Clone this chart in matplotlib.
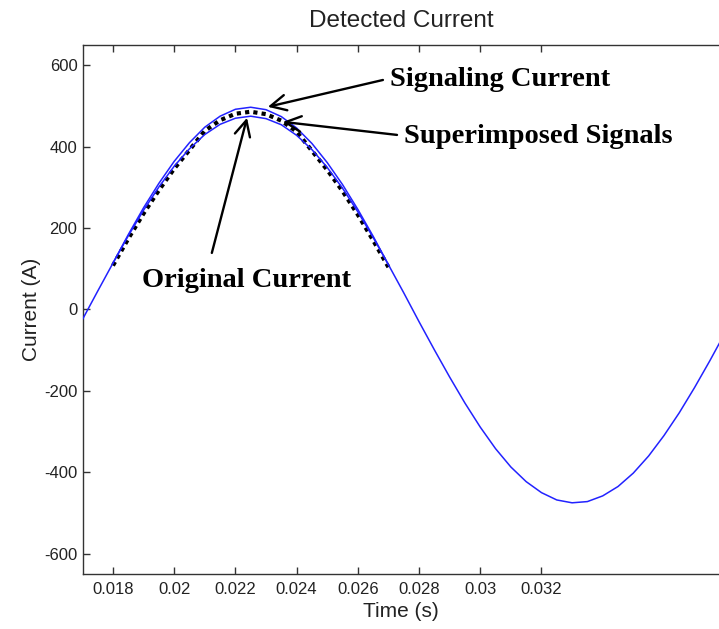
import matplotlib
matplotlib.use("Agg")
import matplotlib.pyplot as plt

plt.rcParams["axes.unicode_minus"] = False

# ---- data ----
t_orig = [0.0170, 0.0175, 0.0180, 0.0185, 0.0190, 0.0195, 0.0200, 0.0205, 0.0210, 0.0215,
          0.0220, 0.0225, 0.0230, 0.0235, 0.0240, 0.0245, 0.0250, 0.0255, 0.0260, 0.0265,
          0.0270, 0.0275, 0.0280, 0.0285, 0.0290, 0.0295, 0.0300, 0.0305, 0.0310, 0.0315,
          0.0320, 0.0325, 0.0330, 0.0335, 0.0340, 0.0345, 0.0350, 0.0355, 0.0360, 0.0365,
          0.0370, 0.0375, 0.0380]
i_orig = [-25, 45, 114, 181, 244, 301, 352, 395, 430, 455,
          470, 475, 469, 454, 428, 393, 349, 298, 240, 177,
          110, 41, -30, -99, -166, -230, -289, -342, -387, -423,
          -450, -468, -475, -472, -458, -435, -402, -360, -310, -254,
          -192, -126, -57]

t_sig = [0.0180, 0.0185, 0.0190, 0.0195, 0.0200, 0.0205, 0.0210, 0.0215, 0.0220, 0.0225,
         0.0230, 0.0235, 0.0240, 0.0245, 0.0250, 0.0255, 0.0260, 0.0265, 0.0270]
i_sig = [114, 184, 250, 310, 364, 410, 448, 475, 492, 497,
         491, 474, 446, 408, 361, 307, 246, 180, 110]

t_sup = [0.0180, 0.0185, 0.0190, 0.0195, 0.0200, 0.0205, 0.0210, 0.0215, 0.0220, 0.0225,
         0.0230, 0.0235, 0.0240, 0.0245, 0.0250, 0.0255, 0.0260, 0.0265, 0.0270]
i_sup = [108, 174, 236, 293, 346, 392, 439, 465, 481, 486,
         480, 464, 437, 390, 343, 291, 233, 170, 104]

xticks = [0.018, 0.020, 0.022, 0.024, 0.026, 0.028, 0.030, 0.032]
xtick_labels = ["0.018", "0.02", "0.022", "0.024", "0.026", "0.028", "0.03", "0.032"]
yticks = [-600, -400, -200, 0, 200, 400, 600]

title = "Detected Current"
xlabel = "Time (s)"
ylabel = "Current (A)"
ann_sig = "Signaling Current"
ann_sup = "Superimposed Signals"
ann_orig = "Original Current"

# ---- figure ----
fig = plt.figure(figsize=(7.19, 6.29), dpi=100)
ax = fig.add_axes([0.1154, 0.0874, 0.8846, 0.8411])

ax.plot(t_orig, i_orig, color="#2222ff", lw=1.1, zorder=3)
ax.plot(t_sig, i_sig, color="#2222ff", lw=1.1, zorder=3)
ax.plot(t_sup, i_sup, color="black", lw=3.0, ls=(0, (1, 1)), zorder=2)

ax.set_xlim(0.01702, 0.0378)
ax.set_ylim(-650, 650)
ax.set_xticks(xticks)
ax.set_xticklabels(xtick_labels)
ax.set_yticks(yticks)

sans = ["Liberation Sans", "DejaVu Sans"]
for lab in ax.get_xticklabels() + ax.get_yticklabels():
    lab.set_fontfamily(sans)
    lab.set_fontsize(12)
    lab.set_color("#222222")

ax.tick_params(axis="y", direction="in", length=5, width=1, right=False,
               colors="#333333", labelcolor="#222222", pad=4)
ax.tick_params(axis="x", direction="in", length=5, width=1, top=True,
               colors="#333333", labelcolor="#222222", pad=6)
for side in ("left", "bottom", "top"):
    ax.spines[side].set_color("#333333")
    ax.spines[side].set_linewidth(1.0)
ax.spines["right"].set_visible(False)

ax.set_title(title, family=sans, fontsize=17.5, color="#222222", pad=13)
ax.set_xlabel(xlabel, family=sans, fontsize=15, color="#222222", labelpad=3)
ax.set_ylabel(ylabel, family=sans, fontsize=15, color="#222222", labelpad=2)

serif = ["Liberation Serif", "DejaVu Serif"]
arrow = dict(arrowstyle="->", color="black", lw=1.7, mutation_scale=28,
             shrinkA=0, shrinkB=0)

ax.annotate("", xy=(0.02306, 498), xytext=(0.02682, 564), arrowprops=arrow, zorder=5)
ax.text(0.02705, 564, ann_sig, family=serif, fontweight="bold", fontsize=20.5,
        ha="left", va="center")

ax.annotate("", xy=(0.02355, 461), xytext=(0.02728, 429), arrowprops=arrow, zorder=5)
ax.text(0.02750, 424, ann_sup, family=serif, fontweight="bold", fontsize=20.5,
        ha="left", va="center")

ax.annotate("", xy=(0.02238, 471), xytext=(0.02123, 139), arrowprops=arrow, zorder=5)
ax.text(0.02235, 72, ann_orig, family=serif, fontweight="bold", fontsize=20.5,
        ha="center", va="center")

fig.savefig("out.png", dpi=100)
